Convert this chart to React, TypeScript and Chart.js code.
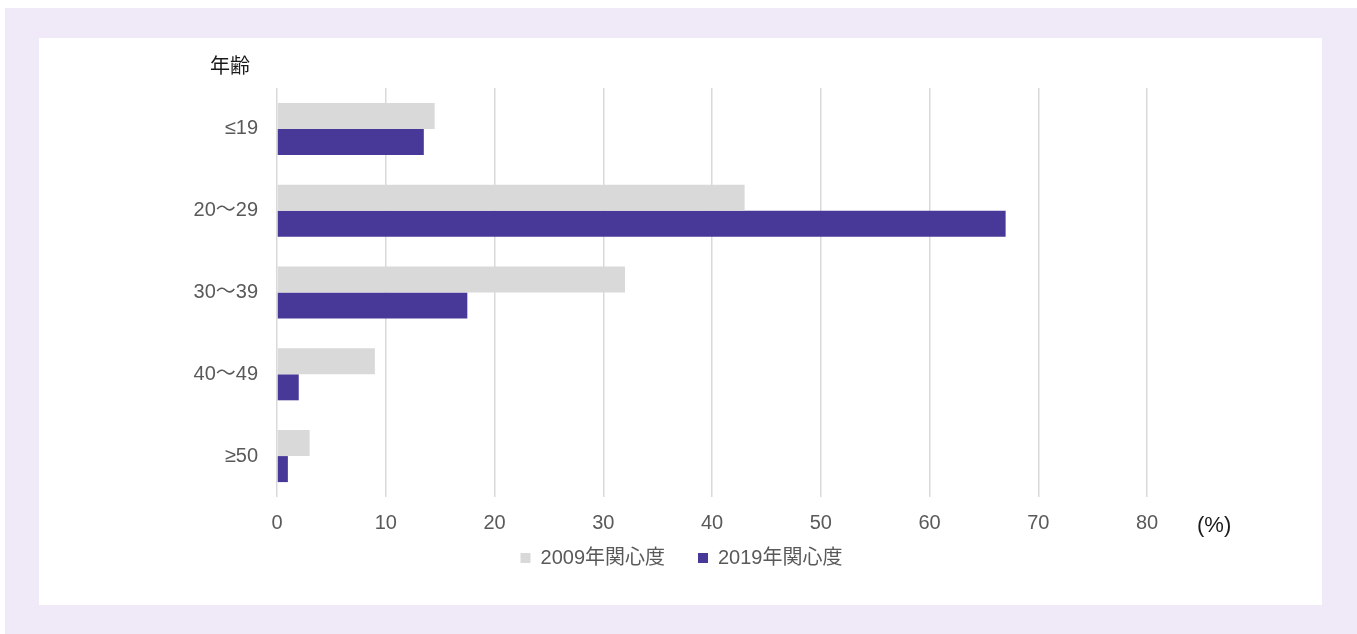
import React, { useEffect, useRef } from 'react';
import { Chart, registerables } from 'chart.js';

Chart.register(...registerables);

// ---- data ----
const ageGroups = ['≤19', '20～29', '30～39', '40～49', '≥50'];
const interest2009 = [14.5, 43.0, 32.0, 9.0, 3.0];
const interest2019 = [13.5, 67.0, 17.5, 2.0, 1.0];
const seriesNames = ['2009年関心度', '2019年関心度'];
const xMin = 0;
const xMax = 80;
const xStep = 10;
const yAxisTitle = '年齢';
const xUnitLabel = '(%)';

const FONT_FAMILY = "'Liberation Sans', Arial, 'Noto Sans CJK JP', sans-serif";

const notesPlugin = {
  id: 'axisNotes',
  afterDraw(chart: any) {
    const { ctx, chartArea, scales } = chart;
    ctx.save();
    ctx.fillStyle = '#1a1a1a';
    ctx.textBaseline = 'middle';
    ctx.font = `20px ${FONT_FAMILY}`;
    ctx.textAlign = 'right';
    ctx.fillText(yAxisTitle, chartArea.left - 27, chartArea.top - 21);
    ctx.font = `22px ${FONT_FAMILY}`;
    ctx.textAlign = 'left';
    ctx.fillText(xUnitLabel, scales.x.getPixelForValue(xMax) + 50, chartArea.bottom + 29);
    ctx.restore();
  },
};

export default function App() {
  const canvasRef = useRef<HTMLCanvasElement | null>(null);

  useEffect(() => {
    if (!canvasRef.current) return;
    const chart = new Chart(canvasRef.current, {
      type: 'bar',
      data: {
        labels: ageGroups,
        datasets: [
          {
            label: seriesNames[0],
            data: interest2009,
            backgroundColor: '#d9d9d9',
            borderColor: '#d9d9d9',
            borderWidth: 0,
            xAxisID: 'x',
            yAxisID: 'y',
          },
          {
            label: seriesNames[1],
            data: interest2019,
            backgroundColor: '#483898',
            borderColor: '#483898',
            borderWidth: 0,
            xAxisID: 'x',
            yAxisID: 'y',
          },
        ],
      },
      options: {
        indexAxis: 'y',
        animation: false,
        responsive: false,
        maintainAspectRatio: false,
        datasets: {
          bar: {
            barPercentage: 1,
            categoryPercentage: 0.636,
          },
        },
        layout: {
          padding: { top: 50, left: 2, right: 0, bottom: 27 },
        },
        scales: {
          x: {
            type: 'linear',
            position: 'bottom',
            min: xMin,
            max: xMax,
            ticks: {
              stepSize: xStep,
              color: '#595959',
              font: { family: FONT_FAMILY, size: 20 },
              padding: 14,
            },
            grid: {
              color: '#d9d9d9',
              lineWidth: 1.5,
              drawTicks: false,
            },
            border: { display: false },
            afterFit: (s: any) => {
              s.height = 38;
            },
          },
          y: {
            type: 'category',
            position: 'left',
            grid: { display: false, drawTicks: false },
            border: { display: false },
            ticks: {
              color: '#595959',
              font: { family: FONT_FAMILY, size: 20 },
              padding: 19,
            },
            afterFit: (s: any) => {
              s.width = 236;
            },
          },
          y2: {
            type: 'category',
            position: 'right',
            labels: ageGroups,
            grid: { display: false, drawTicks: false },
            border: { display: false },
            ticks: { display: false },
            afterFit: (s: any) => {
              s.width = 175;
            },
          },
        },
        plugins: {
          legend: {
            position: 'bottom',
            title: {
              display: true,
              text: '',
              font: { size: 10, lineHeight: 1 },
              padding: { top: 0, bottom: -30 },
            },
            labels: {
              boxWidth: 10,
              boxHeight: 10,
              padding: 33,
              color: '#595959',
              font: { family: FONT_FAMILY, size: 20 },
            },
          },
          tooltip: { enabled: false },
          title: { display: false },
        },
      },
      plugins: [notesPlugin],
    } as any);
    return () => chart.destroy();
  }, []);

  return (
    <div
      style={{
        position: 'absolute',
        left: 5,
        top: 8,
        width: 1352,
        height: 626,
        background: '#f0eaf8',
      }}
    >
      <div
        style={{
          position: 'absolute',
          left: 34,
          top: 30,
          width: 1283,
          height: 567,
          background: '#ffffff',
        }}
      >
        <canvas ref={canvasRef} width={1283} height={567} style={{ display: 'block' }} />
      </div>
    </div>
  );
}
